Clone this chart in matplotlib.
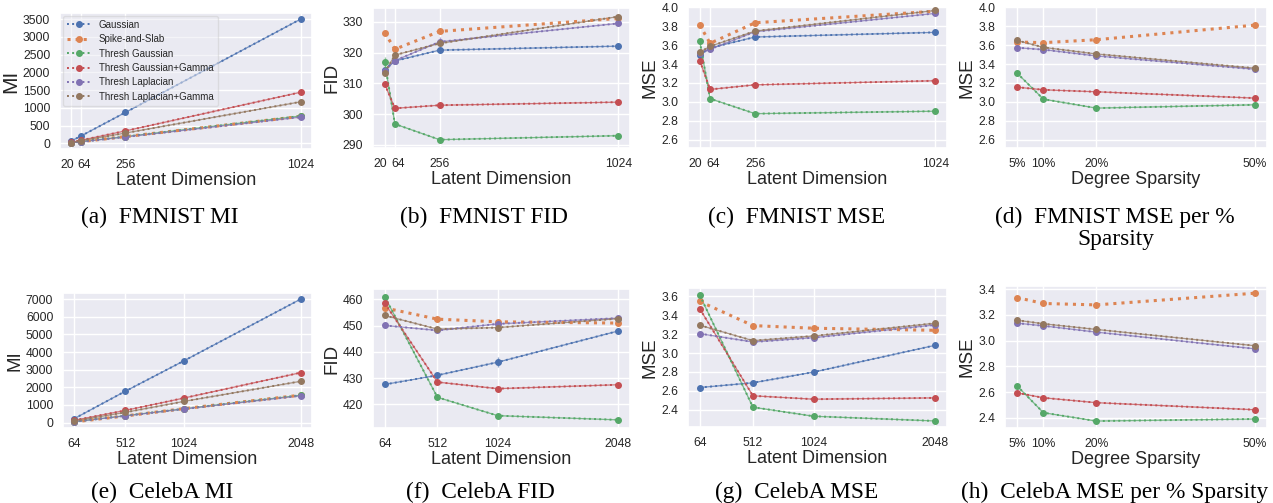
import numpy as np
import matplotlib.pyplot as plt
import matplotlib.transforms as mtransforms
import seaborn as sns

sns.set_theme(style="darkgrid")
plt.rcParams['font.family'] = ['Liberation Sans', 'DejaVu Sans']

methods = ["Gaussian", "Spike-and-Slab", "Thresh Gaussian",
           "Thresh Gaussian+Gamma", "Thresh Laplacian", "Thresh Laplacian+Gamma"]
colors = sns.color_palette("deep", 6)

dims_fmnist = [20, 64, 256, 1024]
dims_celeba = [64, 512, 1024, 2048]
sparsity = [5, 10, 20, 50]
sparsity_labels = ["5%", "10%", "20%", "50%"]

# one row per method, same order as `methods`
fmnist_mi = [
    [70, 215, 870, 3500],
    [15, 50, 190, 760],
    [15, 50, 190, 770],
    [28, 90, 350, 1440],
    [15, 45, 180, 740],
    [23, 75, 290, 1170],
]
fmnist_fid = [
    [314.4, 317.3, 320.8, 322.1],
    [326.5, 321.1, 326.9, 331.1],
    [317.0, 296.8, 291.7, 293.0],
    [309.8, 301.9, 302.9, 303.9],
    [314.1, 317.4, 323.5, 329.5],
    [313.5, 319.2, 323.0, 331.7],
]
fmnist_fid_err = [
    [0.5, 0.5, 0.5, 1.0],
    [0.5, 0.5, 0.8, 0.5],
    [1.5, 0.5, 0.3, 0.3],
    [1.0, 0.5, 0.8, 0.5],
    [0.5, 0.5, 1.5, 0.5],
    [0.5, 0.5, 1.0, 0.5],
]
fmnist_mse = [
    [3.497, 3.571, 3.687, 3.736],
    [3.814, 3.620, 3.838, 3.960],
    [3.641, 3.033, 2.874, 2.900],
    [3.437, 3.131, 3.180, 3.223],
    [3.518, 3.557, 3.743, 3.937],
    [3.525, 3.588, 3.750, 3.968],
]
fmnist_mse_sp = [
    [np.nan, np.nan, np.nan, np.nan],
    [3.634, 3.627, 3.658, 3.813],
    [3.306, 3.028, 2.933, 2.968],
    [3.155, 3.127, 3.106, 3.039],
    [3.574, 3.553, 3.486, 3.345],
    [3.651, 3.577, 3.507, 3.356],
]
celeba_mi = [
    [225, 1780, 3500, 7000],
    [40, 375, 790, 1555],
    [50, 390, 780, 1550],
    [130, 690, 1390, 2830],
    [50, 380, 770, 1520],
    [95, 580, 1200, 2340],
]
celeba_fid = [
    [427.6, 431.1, 436.1, 448.0],
    [456.8, 452.5, 451.5, 451.0],
    [461.1, 422.7, 415.7, 414.1],
    [458.6, 428.5, 426.0, 427.5],
    [450.1, 448.2, 450.7, 452.9],
    [453.9, 448.7, 449.3, 452.7],
]
celeba_fid_err = [
    [0.5, 0.8, 2.0, 0.8],
    [0.5, 1.0, 1.0, 0.5],
    [0.5, 0.5, 0.5, 0.5],
    [0.5, 0.5, 0.5, 0.5],
    [0.5, 0.5, 0.5, 0.5],
    [0.5, 1.0, 0.5, 0.5],
]
celeba_mse = [
    [2.634, 2.684, 2.798, 3.082],
    [3.547, 3.291, 3.263, 3.241],
    [3.614, 2.425, 2.329, 2.279],
    [3.469, 2.546, 2.510, 2.524],
    [3.206, 3.117, 3.163, 3.298],
    [3.295, 3.131, 3.181, 3.316],
]
celeba_mse_sp = [
    [np.nan, np.nan, np.nan, np.nan],
    [3.335, 3.289, 3.278, 3.369],
    [2.649, 2.439, 2.374, 2.390],
    [2.594, 2.555, 2.517, 2.462],
    [3.136, 3.115, 3.066, 2.936],
    [3.159, 3.131, 3.087, 2.960],
]

W, H = 1273, 503
fig = plt.figure(figsize=(W / 100, H / 100), dpi=100)


def px_axes(x0, y0, x1, y1):
    return fig.add_axes([x0 / W, 1 - y1 / H, (x1 - x0) / W, (y1 - y0) / H])


def draw(ax, x, ys, xticklabels, xlabel, ylabel, yticks, ylim=None, errs=None,
         ylabelsize=13.5):
    for i, y in enumerate(ys):
        c = colors[i]
        if i == 1:
            ax.plot(x, y, ':', color=c, lw=2.2, marker='o', ms=4, label=methods[i], zorder=3)
        else:
            ax.plot(x, y, '-', color=c, lw=0.9, alpha=0.75, zorder=2)
            ax.plot(x, y, ':', color=c, lw=1.4, marker='o', ms=4, label=methods[i], zorder=3)
        if errs is not None:
            ax.errorbar(x, y, yerr=errs[i], fmt='none', ecolor=c, elinewidth=1, alpha=0.6)
    ax.set_xticks(x)
    ax.set_xticklabels(xticklabels)
    ax.set_yticks(yticks)
    if ylim is not None:
        ax.set_ylim(*ylim)
    ax.set_xlabel(xlabel, fontsize=13, labelpad=1)
    ax.set_ylabel(ylabel, fontsize=ylabelsize, labelpad=2)
    ax.tick_params(labelsize=8.7, pad=1, colors='.15')


def nudge_first_ticks(ax):
    # the 20 / 64 labels sit close together, push them apart a little
    labels = ax.get_xticklabels()
    for lab, dx in zip(labels[:2], (-3.0, 2.0)):
        off = mtransforms.ScaledTranslation(dx / 72, 0, fig.dpi_scale_trans)
        lab.set_transform(lab.get_transform() + off)


ax = px_axes(60, 13, 312, 149)
draw(ax, dims_fmnist, fmnist_mi, ["20", "64", "256", "1024"], "Latent Dimension", "MI",
     np.arange(0, 3501, 500), ylabelsize=15)
nudge_first_ticks(ax)
ax.legend(loc='upper left', fontsize=7, handlelength=2.5, borderaxespad=0.3,
          labelspacing=0.45, framealpha=0.5)

ax = px_axes(373, 8, 630, 148)
draw(ax, dims_fmnist, fmnist_fid, ["20", "64", "256", "1024"], "Latent Dimension", "FID",
     np.arange(290, 331, 10), ylim=(289, 334.5), errs=fmnist_fid_err)
nudge_first_ticks(ax)

ax = px_axes(688, 7, 947, 148)
draw(ax, dims_fmnist, fmnist_mse, ["20", "64", "256", "1024"], "Latent Dimension", "MSE",
     np.round(np.arange(2.6, 4.01, 0.2), 1), ylim=(2.51, 4.005))
nudge_first_ticks(ax)

ax = px_axes(1005, 7, 1267, 148)
draw(ax, sparsity, fmnist_mse_sp, sparsity_labels, "Degree Sparsity", "MSE",
     np.round(np.arange(2.6, 4.01, 0.2), 1), ylim=(2.51, 4.005))

ax = px_axes(63, 293, 312, 428)
draw(ax, dims_celeba, celeba_mi, ["64", "512", "1024", "2048"], "Latent Dimension", "MI",
     np.arange(0, 7001, 1000))

ax = px_axes(373, 289, 630, 428)
draw(ax, dims_celeba, celeba_fid, ["64", "512", "1024", "2048"], "Latent Dimension", "FID",
     np.arange(420, 461, 10), ylim=(411, 464), errs=celeba_fid_err)

ax = px_axes(688, 288, 947, 427)
draw(ax, dims_celeba, celeba_mse, ["64", "512", "1024", "2048"], "Latent Dimension", "MSE",
     np.round(np.arange(2.4, 3.61, 0.2), 1), ylim=(2.215, 3.69))

ax = px_axes(1005, 286, 1267, 428)
draw(ax, sparsity, celeba_mse_sp, sparsity_labels, "Degree Sparsity", "MSE",
     np.round(np.arange(2.4, 3.41, 0.2), 1), ylim=(2.32, 3.425))

captions = [
    (160, 217, "(a)  FMNIST MI"),
    (484, 217, "(b)  FMNIST FID"),
    (797, 217, "(c)  FMNIST MSE"),
    (1115, 217, "(d)  FMNIST MSE per %"),
    (1116, 240, "Sparsity"),
    (162, 492, "(e)  CelebA MI"),
    (480, 492, "(f)  CelebA FID"),
    (797, 492, "(g)  CelebA MSE"),
    (1115, 492, "(h)  CelebA MSE per % Sparsity"),
]
for cx, cy, txt in captions:
    fig.text(cx / W, 1 - cy / H, txt, ha='center', va='center', fontsize=16.8,
             family=['Liberation Serif', 'DejaVu Serif'], color='black')

fig.savefig("out.png", dpi=100)
